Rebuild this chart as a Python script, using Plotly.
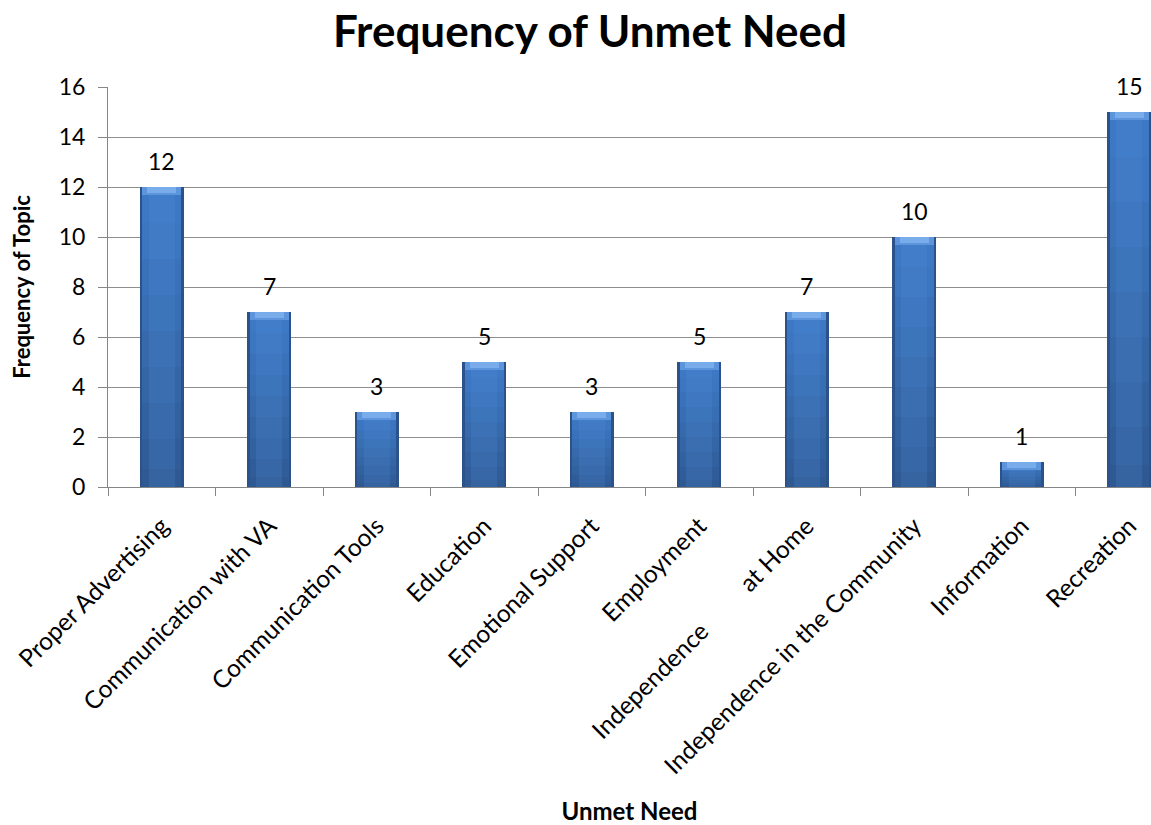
import plotly.graph_objects as go

# Unmet needs and how often each topic came up
categories = [
    "Proper Advertising",
    "Communication with VA",
    "Communication Tools",
    "Education",
    "Emotional Support",
    "Employment",
    "Independence\u00a0\u00a0\u00a0\u00a0\u00a0\u00a0\u00a0\u00a0\u00a0at Home",
    "Independence in the Community",
    "Information",
    "Recreation",
]
frequency = [12, 7, 3, 5, 3, 5, 7, 10, 1, 15]

y_ticks = [0, 2, 4, 6, 8, 10, 12, 14, 16]

FONT = "Lato"
W, H = 1151, 825
L, R, T, B = 108, 0, 87, 338

fig = go.Figure()

# dark rim of each bar
fig.add_trace(go.Bar(
    x=categories, y=frequency, width=0.41,
    marker=dict(color="#2b5289", line=dict(width=0)),
    hoverinfo="skip", showlegend=False,
))

# body: shaded from a lighter top towards a darker base
body_steps = [
    (1.00, "#3d78c4"), (0.88, "#3c76c0"), (0.76, "#3a72ba"),
    (0.64, "#386eb3"), (0.52, "#366aac"), (0.40, "#3466a6"),
    (0.28, "#32619f"), (0.16, "#305d99"), (0.06, "#2e5993"),
]
for frac, col in body_steps:
    fig.add_trace(go.Bar(
        x=categories, y=[v * frac for v in frequency], width=0.36,
        marker=dict(color=col, line=dict(width=0)),
        hoverinfo="skip", showlegend=False,
    ))

# soft highlight down the middle of each bar
fig.add_trace(go.Bar(
    x=categories, y=[v - 0.3 for v in frequency], width=0.24,
    marker=dict(color="rgba(90,150,225,0.18)", line=dict(width=0)),
    hoverinfo="skip", showlegend=False,
))

# bevelled cap at the top of each bar
fig.add_trace(go.Bar(
    x=categories, y=[0.3] * len(frequency), base=[v - 0.3 for v in frequency],
    width=0.36, marker=dict(color="#5d95dc", line=dict(width=0)),
    hoverinfo="skip", showlegend=False,
))
fig.add_trace(go.Bar(
    x=categories, y=[0.22] * len(frequency), base=[v - 0.22 for v in frequency],
    width=0.27, marker=dict(color="#78aceb", line=dict(width=0)),
    hoverinfo="skip", showlegend=False,
))

# value labels above the bars
for c, v in zip(categories, frequency):
    fig.add_annotation(
        x=c, y=v, text=str(v), showarrow=False,
        xref="x", yref="y", yanchor="bottom", yshift=10,
        font=dict(family=FONT, size=23, color="#000000"),
    )

fig.update_layout(
    width=W, height=H,
    margin=dict(l=L, r=R, t=T, b=B, autoexpand=False),
    barmode="overlay",
    bargap=0,
    paper_bgcolor="white",
    plot_bgcolor="white",
    font=dict(family=FONT, color="#000000"),
    title=dict(
        text="<b>Frequency of Unmet Need</b>",
        font=dict(family=FONT, size=44, color="#000000"),
        x=590 / W, xref="container", xanchor="center",
        y=1 - 32 / H, yref="container", yanchor="middle",
    ),
    xaxis=dict(
        type="category",
        range=[-0.5, (W - L) / 107.5 - 0.5],
        tickangle=-45,
        tickson="boundaries",
        ticks="outside", ticklen=8, tickcolor="#868686",
        showline=True, linecolor="#868686", linewidth=1,
        showgrid=False,
        tickfont=dict(family=FONT, size=24.5, color="#000000"),
        ticklabelstandoff=14,
        title=dict(text="<b>Unmet Need</b>", standoff=34,
                   font=dict(family=FONT, size=24, color="#000000")),
        automargin=False,
    ),
    yaxis=dict(
        range=[0, 16],
        tickvals=y_ticks,
        ticks="outside", ticklen=9, tickcolor="#868686",
        showline=True, linecolor="#868686", linewidth=1,
        showgrid=True, gridcolor="#8e8e8e", gridwidth=1,
        zeroline=False,
        tickfont=dict(family=FONT, size=23, color="#000000"),
        ticklabelstandoff=8,
        title=dict(text="<b>Frequency of Topic</b>", standoff=22,
                   font=dict(family=FONT, size=22, color="#000000")),
        automargin=False,
    ),
)

fig.write_html("out.html")
